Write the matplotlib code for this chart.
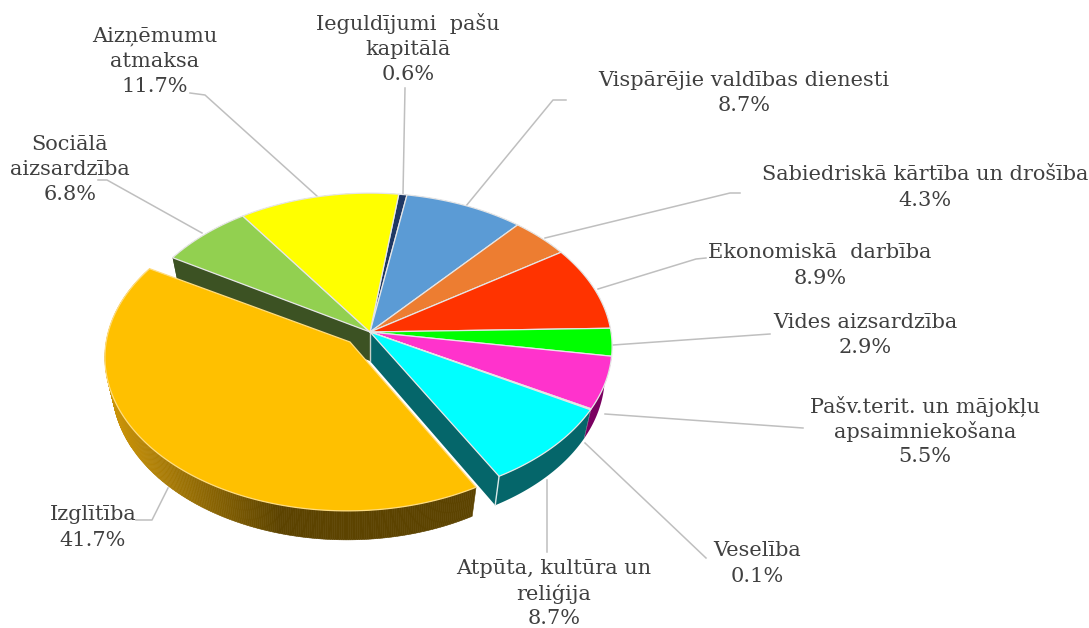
import numpy as np
import matplotlib
matplotlib.use("Agg")
import matplotlib.pyplot as plt
from matplotlib.patches import Polygon

# slices, clockwise, first one starts near the top of the pie
names = ["Ieguldījumi  pašu\nkapitālā", "Vispārējie valdības dienesti",
         "Sabiedriskā kārtība un drošība", "Ekonomiskā  darbība", "Vides aizsardzība",
         "Pašv.terit. un mājokļu\napsaimniekošana", "Veselība", "Atpūta, kultūra un\nreliģija",
         "Izglītība", "Sociālā\naizsardzība", "Aizņēmumu\natmaksa"]
values = [0.6, 8.7, 4.3, 8.9, 2.9, 5.5, 0.1, 8.7, 41.7, 6.8, 11.7]
colors = ["#1F3864", "#5B9BD5", "#ED7D31", "#FF3300", "#00FF00", "#FF33CC",
          "#800060", "#00FFFF", "#FFC000", "#92D050", "#FFFF00"]
walls = ["#101C32", "#2E4E6B", "#773E18", "#801A00", "#008000", "#7A0060",
         "#500040", "#05666A", "#5C4300", "#3C5223", "#808000"]

# label centres in pixels (x, y of the first line)
label_x = [408, 744, 925, 820, 865, 925, 757, 554, 93, 70, 155]
label_y = [24, 80, 175, 253, 322, 406, 551, 568, 515, 144, 36]

# leader lines, pixel points
leaders = [[(403, 194), (405, 88)],
           [(466, 206), (553, 100), (566, 100)],
           [(545, 238), (730, 193), (740, 193)],
           [(598, 289), (696, 259), (706, 258)],
           [(613, 345), (770, 334)],
           [(605, 414), (803, 428)],
           [(585, 443), (706, 558)],
           [(547, 480), (547, 552)],
           [(168, 488), (152, 520), (136, 520)],
           [(202, 233), (107, 180), (98, 180)],
           [(318, 197), (205, 95), (190, 93)]]

START = 7.5        # degrees clockwise from top
CX, CY = 370, 332  # pie apex
A, B, K = 241, 152, 0.0945  # perspective disc
DEPTH = 29
SHRINK = 0.97
EXPLODE = (-23, 11)


def rim(deg):
    t = np.radians(deg)
    x, y = np.sin(t), -np.cos(t)
    d = 1 - K * y
    return CX + A * x / d, CY + B * y / d


def lower(px, py):
    return CX + (px - CX) * SHRINK, py + DEPTH


fig = plt.figure(figsize=(10.89, 6.28), dpi=100)
ax = fig.add_axes([0, 0, 1, 1])
ax.set_xlim(0, 1089)
ax.set_ylim(628, 0)
ax.axis("off")

for pts in leaders:
    xs, ys = zip(*pts)
    ax.plot(xs, ys, color="#BFBFBF", lw=1.1, zorder=1)

angles = START + np.concatenate([[0], np.cumsum(values)]) * 360 / sum(values)
IZG = names.index("Izglītība")
SOC = IZG + 1
ATP = IZG - 1

# outer walls of the main group
for i in range(len(values)):
    if i == IZG:
        continue
    th = np.linspace(angles[i], angles[i + 1], 40)
    px, py = rim(th)
    bx, by = lower(px, py)
    ax.add_patch(Polygon(np.r_[np.c_[px, py], np.c_[bx, by][::-1]], fc=walls[i], ec="none", zorder=2))

# cut faces next to the exploded slice
for i, ang in ((ATP, angles[IZG]), (SOC, angles[SOC])):
    ex, ey = rim(ang)
    bx, by = lower(ex, ey)
    ax.add_patch(Polygon([(CX, CY), (ex, ey), (bx, by), (CX, CY + DEPTH)], fc=walls[i], ec="none", zorder=3))
ex, ey = rim(angles[IZG])
bx, by = lower(ex, ey)
ax.plot([ex, bx], [ey, by], color="#D8E8E8", lw=1, zorder=3)
ax.plot([CX, CX], [CY, CY + DEPTH], color="#C8D0C8", lw=1, zorder=3)

# top surfaces of the main group
for i in range(len(values)):
    if i == IZG:
        continue
    th = np.linspace(angles[i], angles[i + 1], 60)
    px, py = rim(th)
    ax.add_patch(Polygon(np.r_[[(CX, CY)], np.c_[px, py]], fc=colors[i], ec="#E6E6E6", lw=0.9,
                         joinstyle="round", zorder=4))

# exploded slice: wall with gradient, then top
th = np.linspace(angles[IZG], angles[IZG + 1], 300)
px, py = rim(th)
px, py = px + EXPLODE[0], py + EXPLODE[1]
bx = CX + EXPLODE[0] + (px - CX - EXPLODE[0]) * SHRINK
by = py + DEPTH
c_dark = np.array([0x5C, 0x43, 0x00]) / 255
c_gold = np.array([0xC8, 0x92, 0x08]) / 255
for j in range(len(th) - 1):
    f = np.clip((px[j] - 115) / 165, 0, 1)
    col = c_gold + (c_dark - c_gold) * f
    ax.add_patch(Polygon([(px[j], py[j]), (px[j + 1], py[j + 1]), (bx[j + 1], by[j + 1]), (bx[j], by[j])],
                         fc=col, ec=col, lw=0.4, zorder=5))
ax.add_patch(Polygon(np.r_[[(CX + EXPLODE[0] + 3, CY + EXPLODE[1] - 1)], np.c_[px, py]],
                     fc=colors[IZG], ec="#FFDD80", lw=0.9, zorder=6))

# labels
for n, v, x, y in zip(names, values, label_x, label_y):
    lines = n.split("\n") + ["%.1f%%" % v]
    for k, line in enumerate(lines):
        ax.text(x, y + k * 25.5, line, ha="center", va="center", family="DejaVu Serif",
                fontsize=15, color="#404040", zorder=7)

fig.savefig("out.png", dpi=100)
